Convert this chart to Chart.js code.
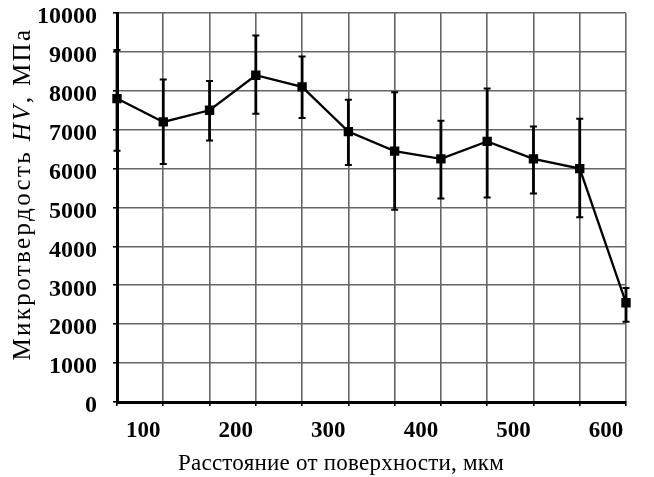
<!DOCTYPE html>
<html>
<head>
<meta charset="utf-8">
<script src="https://cdn.jsdelivr.net/npm/chart.js@4/dist/chart.umd.min.js"></script>
<style>
html,body{margin:0;padding:0;background:#fff;}
#wrap{width:654px;height:477px;position:relative;}
</style>
</head>
<body>
<div id="wrap"><canvas id="c"></canvas></div>
<script>
// Data
const distances = [50, 100, 150, 200, 250, 300, 350, 400, 450, 500, 550, 600];
const hardness  = [7800, 7200, 7500, 8400, 8100, 6950, 6450, 6250, 6700, 6250, 6000, 2550];
const errTop    = [9050, 8290, 8250, 9420, 8880, 7770, 7960, 7230, 8060, 7080, 7280, 2930];
const errBottom = [6460, 6120, 6720, 7410, 7300, 6090, 4940, 5230, 5260, 5360, 4750, 2060];
const xTickLabels = [100, 200, 300, 400, 500, 600];
const yTickValues = [0, 1000, 2000, 3000, 4000, 5000, 6000, 7000, 8000, 9000, 10000];
const xTitleParts = [['Расстояние от поверхности, мкм', 'normal']];
const yTitleParts = [['Микротвердость ', 'normal'], ['HV', 'italic'], [', МПа', 'normal']];

const errorBars = {
  id: 'errorBars',
  beforeDatasetsDraw(chart) {
    const ctx = chart.ctx;
    const xs = chart.scales.x, ys = chart.scales.y;
    ctx.save();
    ctx.strokeStyle = '#000';
    for (let i = 0; i < distances.length; i++) {
      const px = xs.getPixelForValue(distances[i]);
      const pt = ys.getPixelForValue(errTop[i]);
      const pb = ys.getPixelForValue(errBottom[i]);
      ctx.lineWidth = 2.8;
      ctx.beginPath();
      ctx.moveTo(px, pt); ctx.lineTo(px, pb);
      ctx.stroke();
      ctx.lineWidth = 2;
      ctx.beginPath();
      ctx.moveTo(px - 3.5, pt); ctx.lineTo(px + 3.5, pt);
      ctx.moveTo(px - 3.5, pb); ctx.lineTo(px + 3.5, pb);
      ctx.stroke();
    }
    ctx.restore();
  }
};

function drawTitle(ctx, parts, cx, cy, size, targetLen, rotate) {
  const fam = "'Liberation Serif', serif";
  const nChars = parts.reduce((a, [t]) => a + t.length, 0);
  ctx.save();
  const measure = () => {
    let total = 0;
    const ws = parts.map(([t, st]) => {
      ctx.font = st + ' ' + size + 'px ' + fam;
      const w = ctx.measureText(t).width;
      total += w;
      return w;
    });
    return {total, ws};
  };
  ctx.letterSpacing = '0px';
  const base = measure();
  const sp = Math.max(0, (targetLen - base.total) / nChars);
  ctx.letterSpacing = sp + 'px';
  const m = measure();
  const len = Math.max(targetLen, base.total);
  ctx.translate(cx, cy);
  if (rotate) ctx.rotate(-Math.PI / 2);
  ctx.fillStyle = '#000';
  ctx.textBaseline = 'middle';
  ctx.textAlign = 'left';
  let x = -len / 2;
  parts.forEach(([t, st], i) => {
    ctx.font = st + ' ' + size + 'px ' + fam;
    ctx.fillText(t, x, 0);
    x += m.ws[i] > base.ws[i] ? m.ws[i] : base.ws[i] + sp * t.length;
  });
  ctx.restore();
}

const titlesPlugin = {
  id: 'titles',
  afterDraw(chart) {
    drawTitle(chart.ctx, yTitleParts, 23, 194, 25, 333, true);
    drawTitle(chart.ctx, xTitleParts, 341, 464, 23, 326, false);
  }
};

new Chart(document.getElementById('c'), {
  type: 'line',
  data: {
    datasets: [{
      data: distances.map((d, i) => ({x: d, y: hardness[i]})),
      borderColor: '#000',
      backgroundColor: '#000',
      borderWidth: 2.3,
      pointStyle: 'rect',
      pointRadius: 5,
      pointHoverRadius: 5,
      tension: 0,
      clip: false
    }]
  },
  options: {
    responsive: true,
    maintainAspectRatio: false,
    animation: false,
    layout: {padding: {top: 13, right: 28, left: 0, bottom: 0}},
    plugins: {legend: {display: false}, tooltip: {enabled: false}},
    scales: {
      x: {
        type: 'linear',
        min: 50, max: 600,
        afterFit(s) { s.height = 75; s.paddingLeft = 0; s.paddingRight = 0; },
        ticks: {
          stepSize: 50,
          autoSkip: false,
          maxRotation: 0,
          color: '#000',
          padding: 11,
          labelOffset: -20,
          font: {family: 'Liberation Serif', size: 23, weight: 'bold'},
          callback: v => xTickLabels.includes(v) ? String(v) : ''
        },
        grid: {color: '#666', lineWidth: 1.6, tickColor: '#000', tickLength: 4},
        border: {color: '#000', width: 3},
        title: {display: false}
      },
      y: {
        min: 0, max: 10000,
        afterFit(s) { s.width = 117; s.paddingTop = 0; s.paddingBottom = 0; },
        afterBuildTicks(s) { s.ticks = yTickValues.map(v => ({value: v})); },
        ticks: {
          color: '#000',
          padding: 16,
          labelOffset: 4,
          font: {family: 'Liberation Serif', size: 24, weight: 'bold'},
          callback: v => String(v)
        },
        grid: {color: '#666', lineWidth: 1.6, tickColor: '#000', tickLength: 4},
        border: {color: '#000', width: 3},
        title: {display: false}
      }
    }
  },
  plugins: [errorBars, titlesPlugin]
});
</script>
</body>
</html>
